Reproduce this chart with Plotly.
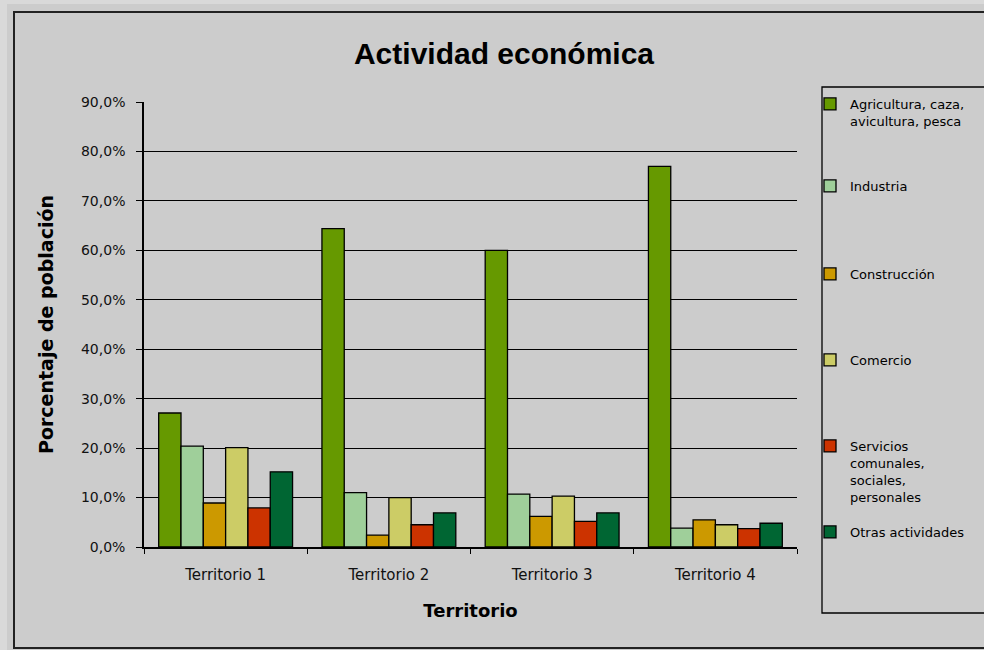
import plotly.graph_objects as go

categories = ["Territorio 1", "Territorio 2", "Territorio 3", "Territorio 4"]
series_names = [
    "Agricultura, caza,<br>avicultura, pesca",
    "Industria",
    "Construcción",
    "Comercio",
    "Servicios<br>comunales,<br>sociales,<br>personales",
    "Otras actividades",
]
agricultura = [0.271, 0.644, 0.600, 0.770]
industria = [0.204, 0.110, 0.107, 0.038]
construccion = [0.089, 0.024, 0.062, 0.055]
comercio = [0.201, 0.100, 0.103, 0.045]
servicios = [0.079, 0.045, 0.052, 0.037]
otras = [0.152, 0.069, 0.069, 0.048]
y_ticks = [0, 0.1, 0.2, 0.3, 0.4, 0.5, 0.6, 0.7, 0.8, 0.9]

values = [agricultura, industria, construccion, comercio, servicios, otras]
colors = ["#669900", "#9FCF9A", "#CC9900", "#CCCC66", "#CC3300", "#006633"]
legend_centers = [105, 187, 275, 361, 447, 533]

W, H = 984, 650
L, R, T, B = 144, 187, 102, 103
pw, ph = W - L - R, H - T - B

def fx(px):
    return (px - L) / pw

def fy(py):
    return (H - B - py) / ph

SANS = "DejaVu Sans, Verdana, sans-serif"
ARIAL = "Liberation Sans, Arial, sans-serif"

fig = go.Figure()
legend_layouts = {}
for i, (name, vals, col) in enumerate(zip(series_names, values, colors)):
    lname = "legend" if i == 0 else f"legend{i+1}"
    fig.add_trace(go.Bar(
        x=categories, y=vals, name=name,
        marker=dict(color=col, line=dict(color="#000000", width=1.3)),
        legend=lname,
    ))
    legend_layouts[lname] = dict(
        x=fx(810), y=fy(legend_centers[i] - 16), xanchor="left", yanchor="top",
        bgcolor="rgba(0,0,0,0)", borderwidth=0, valign="top",
        font=dict(family=SANS, size=13, color="#000000"),
        itemwidth=30, tracegroupgap=0,
    )

fig.update_layout(
    width=W, height=H,
    margin=dict(l=L, r=R, t=T, b=B, autoexpand=False),
    paper_bgcolor="#CCCCCC",
    plot_bgcolor="rgba(0,0,0,0)",
    separators=",.",
    barmode="group",
    bargap=0.18,
    bargroupgap=0,
    showlegend=True,
    title=dict(
        text="<b>Actividad económica</b>",
        x=fx(504), xanchor="center", xref="paper",
        y=1 - 53 / H, yanchor="middle",
        font=dict(family=ARIAL, size=30, color="#000000"),
    ),
    font=dict(family=SANS, color="#000000"),
    **legend_layouts,
)

fig.update_yaxes(
    range=[0, 0.9], tickvals=y_ticks, tickformat=".1%",
    showgrid=True, gridcolor="#000000", gridwidth=1.2,
    showline=True, linecolor="#000000", linewidth=1.5,
    ticks="outside", ticklen=6, tickcolor="#000000", tickwidth=1.2,
    ticklabelstandoff=8,
    tickfont=dict(size=14, family=SANS, color="#111111"),
    zeroline=False,
    title=dict(text="<b>Porcentaje de población</b>", standoff=22,
               font=dict(size=19, family=SANS)),
)
fig.update_xaxes(
    showline=True, linecolor="#000000", linewidth=1.5,
    ticks="outside", tickson="boundaries", ticklen=5, tickcolor="#000000", tickwidth=1.2,
    ticklabelstandoff=13,
    tickfont=dict(size=15, family=SANS, color="#111111"),
    title=dict(text="<b>Territorio</b>", standoff=22,
               font=dict(size=18, family=SANS)),
)

# lighter strip at far left and top (outside chart object)
fig.add_shape(type="rect", xref="paper", yref="paper",
              x0=fx(0), x1=fx(7), y0=fy(650), y1=fy(0),
              fillcolor="#D9D9D9", line=dict(width=0), layer="below")
fig.add_shape(type="rect", xref="paper", yref="paper",
              x0=fx(0), x1=fx(990), y0=fy(4), y1=fy(0),
              fillcolor="#D9D9D9", line=dict(width=0), layer="below")
# outer chart frame
fig.add_shape(type="rect", xref="paper", yref="paper",
              x0=fx(14), x1=fx(1000), y0=fy(648), y1=fy(12),
              fillcolor="rgba(0,0,0,0)", line=dict(color="#222222", width=2), layer="below")
# legend box
fig.add_shape(type="rect", xref="paper", yref="paper",
              x0=fx(822), x1=fx(1000), y0=fy(613), y1=fy(87),
              fillcolor="rgba(0,0,0,0)", line=dict(color="#000000", width=1.3), layer="above")

fig.write_html("out.html", config={"displayModeBar": False},
               post_script="document.body.style.margin='0';")
